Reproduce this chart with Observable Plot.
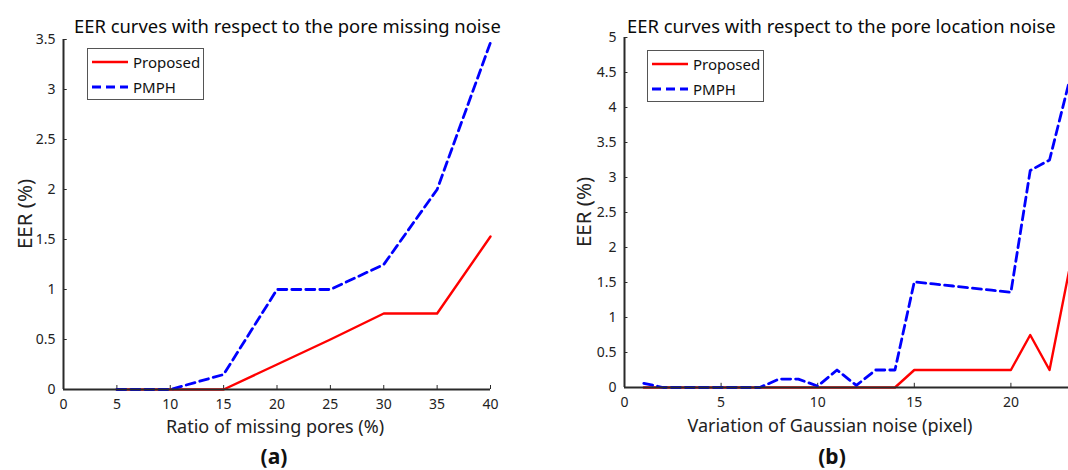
<!DOCTYPE html>
<html><head><meta charset="utf-8">
<script src="https://cdn.jsdelivr.net/npm/d3@7"></script>
<script src="https://cdn.jsdelivr.net/npm/@observablehq/plot@0.6"></script>
<style>
html,body{margin:0;padding:0;background:#fff;overflow:hidden;width:1068px;height:470px;}
body{position:relative;font-family:"Noto Sans",sans-serif;color:#111;}
.abs{position:absolute;white-space:nowrap;}
.title{font-size:18.4px;color:#0a0a0a;}
.xl{font-size:18px;color:#222;transform:translateX(-50%);}
.yl{font-size:20.5px;color:#222;transform:translate(-50%,-50%) rotate(-90deg);}
.cap{font-size:21px;line-height:24px;font-weight:bold;color:#111;transform:translateX(-50%);}
.legend{border:1px solid #555;background:#fff;font-size:15px;color:#111;padding:0 3px 0 0;}
.legend div{display:flex;align-items:center;height:25px;}
.legend svg{margin:0 5px 0 4px;}
</style></head>
<body>
<script>
// Panel (a): pore missing noise
const ratioA = [5, 10, 15, 20, 25, 30, 35, 40];
const proposedA = [0, 0, 0, 0.25, 0.5, 0.76, 0.76, 1.53];
const pmphA = [0, 0, 0.15, 1.0, 1.0, 1.25, 2.0, 3.47];
const xTicksA = [0, 5, 10, 15, 20, 25, 30, 35, 40];
const yTicksA = [0, 0.5, 1, 1.5, 2, 2.5, 3, 3.5];

// Panel (b): pore location noise
const sigmaB = [1,2,3,4,5,6,7,8,9,10,11,12,13,14,15,16,17,18,19,20,21,22,23];
const proposedB = [0,0,0,0,0,0,0,0,0,0,0,0,0,0,0.25,0.25,0.25,0.25,0.25,0.25,0.75,0.25,1.65];
const pmphB = [0.06,0,0,0,0,0,0,0.12,0.12,0.02,0.25,0.03,0.25,0.25,1.51,1.48,1.45,1.42,1.39,1.36,3.1,3.25,4.35];
const xTicksB = [0, 5, 10, 15, 20];
const yTicksB = [0, 0.5, 1, 1.5, 2, 2.5, 3, 3.5, 4, 4.5, 5];

const series = ["Proposed", "PMPH"];
const colors = ["#ff0000", "#0000ff"];
const dashes = [null, "9,5"];

function rows(xs, ys, name){ return xs.map((x,i)=>({x, y: ys[i], s: name})); }

function panel(opts){
  const {xs, p, q, xT, yT, xDom, yDom, width, height, ml, mr, mt, mb, tickX, tickY} = opts;
  const axisColor = "#2a2a2a";
  return Plot.plot({
    width, height, marginLeft: ml, marginRight: mr, marginTop: mt, marginBottom: mb,
    style: {fontFamily: "Noto Sans, sans-serif", fontSize: "14px", color: "#222", background: "transparent", overflow: "visible"},
    x: {domain: xDom, ticks: xT, tickFormat: d => String(d), label: null},
    y: {domain: yDom, ticks: yT, tickFormat: d => String(d), label: null},
    marks: [
      Plot.axisX({ticks: xT, tickSize: 0, tickPadding: 10, tickFormat: d => String(d), label: null, fill: "#222"}),
      Plot.axisY({ticks: yT, tickSize: 0, tickPadding: 8, tickFormat: d => String(d), label: null, fill: "#222"}),
      Plot.ruleX(xT, {x: d => d, y1: yDom[0], y2: yDom[0] + tickY, stroke: axisColor, strokeWidth: 1}),
      Plot.ruleY(yT, {y: d => d, x1: xDom[0], x2: xDom[0] + tickX, stroke: axisColor, strokeWidth: 1}),
      Plot.line(rows(xs, p, series[0]), {x: "x", y: "y", stroke: colors[0], strokeWidth: 2.4}),
      Plot.line(rows(xs, q, series[1]), {x: "x", y: "y", stroke: colors[1], strokeWidth: 2.8, strokeDasharray: dashes[1]}),
      Plot.ruleX([xDom[0]], {stroke: axisColor, strokeWidth: 2}),
      Plot.ruleY([yDom[0]], {stroke: axisColor, strokeWidth: 2})
    ]
  });
}

function place(el, left, top){ el.style.position = "absolute"; el.style.left = left + "px"; el.style.top = top + "px"; document.body.appendChild(el); }

const pa = panel({xs: ratioA, p: proposedA, q: pmphA, xT: xTicksA, yT: yTicksA, xDom: [0,40], yDom: [0,3.5],
  width: 540, height: 470, ml: 63, mr: 50, mt: 39, mb: 81, tickX: 0.35, tickY: 0.04});
place(pa, 0, 0);

const pb = panel({xs: sigmaB, p: proposedB, q: pmphB, xT: xTicksB, yT: yTicksB, xDom: [0,25], yDom: [0,5],
  width: 584, height: 470, ml: 84, mr: 17, mt: 37, mb: 83, tickX: 0.18, tickY: 0.06});
place(pb, 540, 0);

function text(cls, html, left, top){ const d = document.createElement("div"); d.className = "abs " + cls; d.innerHTML = html; d.style.left = left + "px"; d.style.top = top + "px"; document.body.appendChild(d); return d; }

function legend(left, top){
  const d = document.createElement("div"); d.className = "abs legend";
  d.style.left = left + "px"; d.style.top = top + "px";
  series.forEach((s,i) => {
    const r = document.createElement("div");
    r.innerHTML = `<svg width="36" height="6"><line x1="0" y1="3" x2="36" y2="3" stroke="${colors[i]}" stroke-width="${i?2.8:2.4}" ${dashes[i] ? `stroke-dasharray="${dashes[i]}"` : ""}/></svg><span>${s}</span>`;
    d.appendChild(r);
  });
  document.body.appendChild(d);
}

text("title", "EER curves with respect to the pore missing noise", 74, 13);
text("title", "EER curves with respect to the pore location noise", 627, 13);
text("xl", "Ratio of missing pores (%)", 275, 414);
text("xl", "Variation of Gaussian noise (pixel)", 830, 413);
text("yl", "EER (%)", 24, 214);
text("yl", "EER (%)", 583, 212);
text("cap", "(a)", 274, 444);
text("cap", "(b)", 832, 444);
legend(87, 48);
legend(647, 50);
</script>
</body></html>
